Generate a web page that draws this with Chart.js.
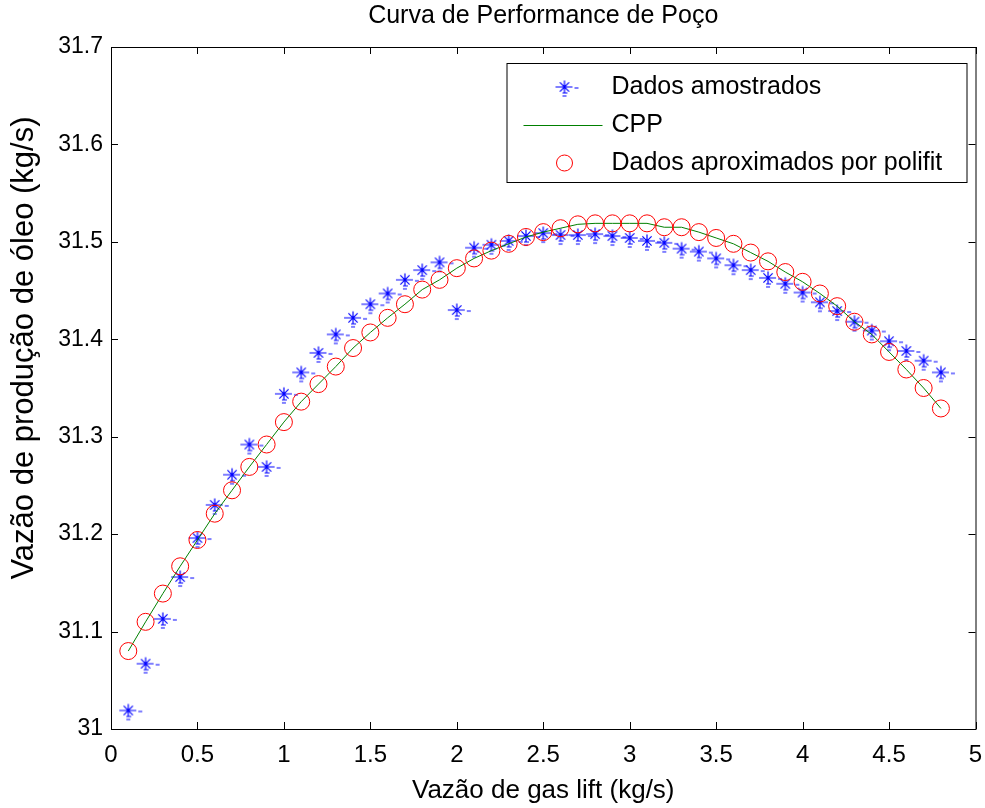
<!DOCTYPE html>
<html>
<head>
<meta charset="utf-8">
<script src="https://cdn.jsdelivr.net/npm/chart.js@4"></script>
<style>
  html, body { margin: 0; padding: 0; background: #fff; }
  #wrap { width: 985px; height: 808px; position: relative; }
</style>
</head>
<body>
<div id="wrap"><canvas id="chart"></canvas></div>
<script>
// gas lift flow (kg/s)
const gasLift = [0.1, 0.2, 0.3, 0.4, 0.5, 0.6, 0.7, 0.8, 0.9, 1.0,
  1.1, 1.2, 1.3, 1.4, 1.5, 1.6, 1.7, 1.8, 1.9, 2.0,
  2.1, 2.2, 2.3, 2.4, 2.5, 2.6, 2.7, 2.8, 2.9, 3.0,
  3.1, 3.2, 3.3, 3.4, 3.5, 3.6, 3.7, 3.8, 3.9, 4.0,
  4.1, 4.2, 4.3, 4.4, 4.5, 4.6, 4.7, 4.8];

// sampled oil production (kg/s)
const sampled = [31.019, 31.067, 31.113, 31.156, 31.196, 31.230, 31.261, 31.292, 31.269, 31.344,
  31.366, 31.386, 31.405, 31.422, 31.436, 31.447, 31.461, 31.471, 31.479, 31.430,
  31.494, 31.497, 31.501, 31.506, 31.509, 31.507, 31.507, 31.508, 31.506, 31.504,
  31.501, 31.499, 31.493, 31.490, 31.483, 31.476, 31.471, 31.463, 31.457, 31.448,
  31.438, 31.429, 31.418, 31.409, 31.398, 31.388, 31.378, 31.366];

// polyfit approximation
const fitted = [31.080, 31.110, 31.139, 31.167, 31.194, 31.221, 31.245, 31.269, 31.292, 31.315,
  31.336, 31.354, 31.372, 31.391, 31.407, 31.422, 31.436, 31.451, 31.461, 31.473,
  31.483, 31.491, 31.498, 31.505, 31.510, 31.514, 31.518, 31.519, 31.519, 31.519,
  31.519, 31.515, 31.515, 31.510, 31.504, 31.498, 31.489, 31.480, 31.469, 31.459,
  31.447, 31.434, 31.418, 31.405, 31.387, 31.369, 31.350, 31.329];

const labels = ['Dados amostrados', 'CPP', 'Dados aproximados por polifit'];
const yTitle = 'Vazão de produção de óleo (kg/s)';

const FONT = "'Liberation Sans', Arial, sans-serif";
const BLUE = '#0000ff';
const GREEN = '#008000';
const RED = '#ff0000';

// matlab-ish '*' marker with the little render dashes
function makeStar() {
  const c = document.createElement('canvas');
  c.width = 34; c.height = 26;
  const g = c.getContext('2d');
  const cx = 17, cy = 13, r = 6.5;
  g.strokeStyle = BLUE;
  g.lineWidth = 1.2;
  g.beginPath();
  for (let k = 0; k < 4; k++) {
    const a = k * Math.PI / 4;
    g.moveTo(cx - r * Math.cos(a), cy - r * Math.sin(a));
    g.lineTo(cx + r * Math.cos(a), cy + r * Math.sin(a));
  }
  g.moveTo(cx - 9, cy); g.lineTo(cx + 8, cy);
  g.moveTo(cx + 10, cy + 1); g.lineTo(cx + 14, cy + 1);
  g.moveTo(cx - 2, cy + 6); g.lineTo(cx + 3, cy + 6);
  g.moveTo(cx - 2, cy + 9); g.lineTo(cx + 2, cy + 9);
  g.stroke();
  return c;
}
const starImg = makeStar();

const boxPlugin = {
  id: 'box',
  afterDatasetsDraw(chart) {
    const { ctx, chartArea: a, scales } = chart;
    const t = 7;
    ctx.save();
    ctx.strokeStyle = '#000';
    ctx.lineWidth = 1;
    ctx.strokeRect(a.left + 0.5, a.top + 0.5, a.right - a.left, a.bottom - a.top);
    ctx.beginPath();
    scales.x.ticks.forEach(tk => {
      const px = Math.round(scales.x.getPixelForValue(tk.value)) + 0.5;
      ctx.moveTo(px, a.bottom); ctx.lineTo(px, a.bottom - t);
      ctx.moveTo(px, a.top); ctx.lineTo(px, a.top + t);
    });
    scales.y.ticks.forEach(tk => {
      const py = Math.round(scales.y.getPixelForValue(tk.value)) + 0.5;
      ctx.moveTo(a.left, py); ctx.lineTo(a.left + t, py);
      ctx.moveTo(a.right, py); ctx.lineTo(a.right - t, py);
    });
    ctx.stroke();

    // y axis title, sits a bit above the axes centre like the original
    ctx.save();
    ctx.translate(24, (a.top + a.bottom) / 2 - 40);
    ctx.rotate(-Math.PI / 2);
    ctx.fillStyle = '#000';
    ctx.font = '31px ' + FONT;
    ctx.textAlign = 'center';
    ctx.textBaseline = 'middle';
    ctx.fillText(yTitle, 0, 0);
    ctx.restore();

    // legend box in upper right of the axes
    const lw = 460, lh = 119;
    const lx = a.right - 9 - lw, ly = a.top + 16;
    ctx.fillStyle = '#fff';
    ctx.fillRect(lx, ly, lw, lh);
    ctx.strokeRect(lx + 0.5, ly + 0.5, lw, lh);
    const rows = [ly + 24, ly + 62, ly + 100];
    const mx = lx + 58;
    ctx.drawImage(starImg, mx - starImg.width / 2, rows[0] - starImg.height / 2);
    ctx.strokeStyle = GREEN;
    ctx.beginPath();
    ctx.moveTo(lx + 17, rows[1] + 0.5); ctx.lineTo(lx + 96, rows[1] + 0.5);
    ctx.stroke();
    ctx.strokeStyle = RED;
    ctx.beginPath();
    ctx.arc(mx, rows[2], 8, 0, Math.PI * 2);
    ctx.stroke();
    ctx.fillStyle = '#000';
    ctx.font = '25px ' + FONT;
    ctx.textBaseline = 'middle';
    labels.forEach((s, i) => ctx.fillText(s, lx + 105, rows[i]));
    ctx.restore();
  }
};

const toPts = ys => gasLift.map((x, i) => ({ x, y: ys[i] }));

new Chart(document.getElementById('chart'), {
  type: 'scatter',
  data: {
    datasets: [
      {
        label: labels[0],
        data: toPts(sampled),
        showLine: false,
        pointStyle: starImg,
        pointRadius: 7,
        borderColor: BLUE,
        backgroundColor: BLUE,
        order: 3,
      },
      {
        label: labels[1],
        data: toPts(fitted),
        showLine: true,
        borderColor: GREEN,
        borderWidth: 1,
        pointRadius: 0,
        tension: 0,
        order: 2,
      },
      {
        label: labels[2],
        data: toPts(fitted),
        showLine: false,
        pointStyle: 'circle',
        pointRadius: 8.5,
        borderColor: RED,
        borderWidth: 1,
        backgroundColor: 'rgba(0,0,0,0)',
        order: 1,
      },
    ],
  },
  options: {
    responsive: true,
    maintainAspectRatio: false,
    animation: false,
    events: [],
    layout: { padding: { top: 0, right: 8, bottom: 0, left: 0 } },
    scales: {
      x: {
        type: 'linear',
        min: 0,
        max: 5,
        ticks: {
          stepSize: 0.5,
          color: '#000',
          padding: 12,
          maxRotation: 0,
          font: { family: FONT, size: 24 },
          callback: v => String(+v.toFixed(1)),
        },
        grid: { display: false, drawTicks: false },
        border: { display: false },
        title: {
          display: true,
          text: 'Vazão de gas lift (kg/s)',
          color: '#000',
          font: { family: FONT, size: 26 },
          padding: { top: 2, bottom: 2 },
        },
        afterFit: s => { s.height = 79; s.paddingRight = 0; s.paddingLeft = 0; },
      },
      y: {
        type: 'linear',
        min: 31,
        max: 31.7,
        ticks: {
          stepSize: 0.1,
          color: '#000',
          padding: 8,
          font: { family: FONT, size: 23 },
          callback: v => Math.abs(v - 31) < 1e-9 ? '31' : v.toFixed(1),
        },
        grid: { display: false, drawTicks: false },
        border: { display: false },
        afterFit: s => { s.width = 111; },
      },
    },
    plugins: {
      legend: { display: false },
      tooltip: { enabled: false },
      title: {
        display: true,
        fullSize: false,
        text: 'Curva de Performance de Poço',
        color: '#000',
        font: { family: FONT, size: 25, weight: 'normal' },
        padding: { top: 1, bottom: 16 },
      },
    },
  },
  plugins: [boxPlugin],
});
</script>
</body>
</html>
